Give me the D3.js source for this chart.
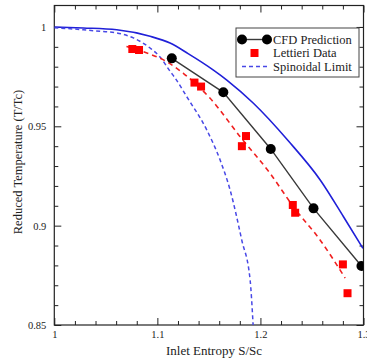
<!DOCTYPE html>
<html>
<head>
<meta charset="utf-8">
<script src="https://cdn.jsdelivr.net/npm/d3@7"></script>
<style>
  html, body { margin: 0; padding: 0; background: #fff; }
  svg { display: block; }
  text { font-family: "Liberation Serif", "Times New Roman", serif; fill: #222; }
</style>
</head>
<body>
<div id="chart"></div>
<script>
// Reduced temperature vs. inlet entropy

// CFD prediction (markers joined by a solid line)
const cfdEntropy = [1.114, 1.164, 1.210, 1.2515, 1.298];
const cfdTemp    = [0.9842, 0.9671, 0.9386, 0.9087, 0.8797];

// Lettieri experimental data
const lettieriEntropy = [1.0757, 1.0822, 1.136, 1.1424, 1.182, 1.186, 1.2314, 1.2337, 1.280, 1.2845];
const lettieriTemp    = [0.9889, 0.9884, 0.972, 0.970, 0.940, 0.9451, 0.9104, 0.9065, 0.8805, 0.866];

// Trend line through the Lettieri data
const trendEntropy = [1.070, 1.0861, 1.1091, 1.1252, 1.1512, 1.1803, 1.2094, 1.2320, 1.2580, 1.2822];
const trendTemp    = [0.9902, 0.9876, 0.9825, 0.9767, 0.9641, 0.9448, 0.9263, 0.9095, 0.8927, 0.8736];

// Saturation curve (solid blue)
const satEntropy = [1.000, 1.0282, 1.0606, 1.0929, 1.1123, 1.1298, 1.1544, 1.1674, 1.1932, 1.2272, 1.2580, 1.2806, 1.2994];
const satTemp    = [1.0000, 0.9995, 0.9986, 0.9953, 0.9919, 0.9866, 0.9783, 0.9733, 0.9616, 0.9426, 0.9230, 0.9045, 0.8886];

// Spinodal limit (dashed blue)
const spinEntropy = [1.000, 1.0282, 1.0444, 1.0606, 1.0767, 1.0929, 1.1026, 1.1123, 1.1172, 1.1285, 1.1480, 1.1609, 1.1706, 1.1819, 1.1900, 1.1929];
const spinTemp    = [0.9996, 0.9986, 0.9978, 0.9970, 0.9945, 0.9894, 0.9849, 0.9777, 0.9743, 0.9649, 0.9481, 0.9330, 0.9179, 0.8927, 0.8726, 0.8500];

// Axis ticks
const xMajorTicks = [1, 1.1, 1.2, 1.3];
const yMajorTicks = [0.85, 0.9, 0.95, 1];
const xMinorTicks = [1.02, 1.04, 1.06, 1.08, 1.12, 1.14, 1.16, 1.18, 1.22, 1.24, 1.26, 1.28];
const yMinorTicks = [0.86, 0.87, 0.88, 0.89, 0.91, 0.92, 0.93, 0.94, 0.96, 0.97, 0.98, 0.99, 1.0];

// Labels
const xTitle = "Inlet Entropy S/Sc";
const yTitle = "Reduced Temperature (T/Tc)";
const legendLabels = ["CFD Prediction", "Lettieri Data", "Spinoidal Limit"];

const W = 367, H = 358;
const mLeft = 54.3, mRight = 363.5, mTop = 5.5, mBottom = 325;

const x = d3.scaleLinear().domain([1, 1.3]).range([mLeft, mRight]);
const y = d3.scaleLinear().domain([0.85, 1.0108]).range([mBottom, mTop]);

const svg = d3.select("#chart").append("svg")
  .attr("width", W).attr("height", H);

svg.append("clipPath").attr("id", "plot-clip")
  .append("rect").attr("x", mLeft).attr("y", mTop)
  .attr("width", mRight - mLeft).attr("height", mBottom - mTop);

const zip = (a, b) => a.map((v, i) => [v, b[i]]);

// Axes with inward ticks on all four sides
function styleAxis(g) {
  g.select(".domain").remove();
  g.selectAll(".tick line").attr("stroke", "#222").attr("stroke-width", 1);
  g.selectAll(".tick text").attr("font-size", "10.5px")
    .attr("font-family", "Liberation Serif, serif").attr("fill", "#222");
}

const fmt = d3.format("");

svg.append("g").attr("transform", `translate(0,${mBottom})`)
  .call(d3.axisBottom(x).tickValues(xMajorTicks).tickSizeInner(-7).tickSizeOuter(0).tickPadding(6).tickFormat(fmt))
  .call(styleAxis);
svg.append("g").attr("transform", `translate(0,${mBottom})`)
  .call(d3.axisBottom(x).tickValues(xMinorTicks).tickSizeInner(-4).tickSizeOuter(0).tickFormat(""))
  .call(styleAxis);
svg.append("g").attr("transform", `translate(0,${mTop})`)
  .call(d3.axisTop(x).tickValues(xMajorTicks).tickSizeInner(-7).tickSizeOuter(0).tickFormat(""))
  .call(styleAxis);
svg.append("g").attr("transform", `translate(0,${mTop})`)
  .call(d3.axisTop(x).tickValues(xMinorTicks).tickSizeInner(-4).tickSizeOuter(0).tickFormat(""))
  .call(styleAxis);

svg.append("g").attr("transform", `translate(${mLeft},0)`)
  .call(d3.axisLeft(y).tickValues(yMajorTicks).tickSizeInner(-7).tickSizeOuter(0).tickPadding(8).tickFormat(fmt))
  .call(styleAxis);
svg.append("g").attr("transform", `translate(${mLeft},0)`)
  .call(d3.axisLeft(y).tickValues(yMinorTicks).tickSizeInner(-4).tickSizeOuter(0).tickFormat(""))
  .call(styleAxis);
svg.append("g").attr("transform", `translate(${mRight},0)`)
  .call(d3.axisRight(y).tickValues(yMajorTicks).tickSizeInner(-7).tickSizeOuter(0).tickFormat(""))
  .call(styleAxis);
svg.append("g").attr("transform", `translate(${mRight},0)`)
  .call(d3.axisRight(y).tickValues(yMinorTicks).tickSizeInner(-4).tickSizeOuter(0).tickFormat(""))
  .call(styleAxis);

// Frame
svg.append("rect").attr("x", mLeft).attr("y", mTop)
  .attr("width", mRight - mLeft).attr("height", mBottom - mTop)
  .attr("fill", "none").attr("stroke", "#222").attr("stroke-width", 1.2);

// Axis titles
svg.append("text").attr("x", 214).attr("y", 355)
  .attr("text-anchor", "middle").attr("font-size", "13px").text(xTitle);
svg.append("text").attr("transform", "translate(22,162) rotate(-90)")
  .attr("text-anchor", "middle").attr("font-size", "12.5px").text(yTitle);

const plot = svg.append("g").attr("clip-path", "url(#plot-clip)");

const smooth = d3.line().x(d => x(d[0])).y(d => y(d[1])).curve(d3.curveMonotoneX);
const straight = d3.line().x(d => x(d[0])).y(d => y(d[1]));

// Saturation curve
plot.append("path").datum(zip(satEntropy, satTemp))
  .attr("d", smooth).attr("fill", "none")
  .attr("stroke", "#2020d8").attr("stroke-width", 1.6);

// Spinodal limit
plot.append("path").datum(zip(spinEntropy, spinTemp))
  .attr("d", smooth).attr("fill", "none")
  .attr("stroke", "#4848e6").attr("stroke-width", 1.5)
  .attr("stroke-dasharray", "4,3");

// Trend line through the experimental data
plot.append("path").datum(zip(trendEntropy, trendTemp))
  .attr("d", smooth).attr("fill", "none")
  .attr("stroke", "#f02020").attr("stroke-width", 1.6)
  .attr("stroke-dasharray", "5,4");

// CFD prediction
plot.append("path").datum(zip(cfdEntropy, cfdTemp))
  .attr("d", straight).attr("fill", "none")
  .attr("stroke", "#3a3a3a").attr("stroke-width", 1.4);
plot.selectAll("circle.cfd").data(zip(cfdEntropy, cfdTemp)).join("circle")
  .attr("class", "cfd")
  .attr("cx", d => x(d[0])).attr("cy", d => y(d[1])).attr("r", 5)
  .attr("fill", "#000");

// Lettieri data
const sq = 8;
plot.selectAll("rect.lettieri").data(zip(lettieriEntropy, lettieriTemp)).join("rect")
  .attr("class", "lettieri")
  .attr("x", d => x(d[0]) - sq / 2).attr("y", d => y(d[1]) - sq / 2)
  .attr("width", sq).attr("height", sq).attr("fill", "#ff0000");

// Legend
const lg = svg.append("g");
lg.append("rect").attr("x", 236).attr("y", 28).attr("width", 123).attr("height", 49)
  .attr("fill", "#fff").attr("stroke", "#444").attr("stroke-width", 1);
const rows = [39.5, 53, 66.5];
const sx0 = 242, sx1 = 267, tx = 273;
lg.append("line").attr("x1", sx0).attr("x2", sx1).attr("y1", rows[0]).attr("y2", rows[0])
  .attr("stroke", "#3a3a3a").attr("stroke-width", 1.4);
lg.selectAll("circle").data([sx0, sx1]).join("circle")
  .attr("cx", d => d).attr("cy", rows[0]).attr("r", 5).attr("fill", "#000");
lg.append("rect").attr("x", (sx0 + sx1) / 2 - sq / 2).attr("y", rows[1] - sq / 2)
  .attr("width", sq).attr("height", sq).attr("fill", "#ff0000");
lg.append("line").attr("x1", sx0).attr("x2", sx1).attr("y1", rows[2]).attr("y2", rows[2])
  .attr("stroke", "#4848e6").attr("stroke-width", 1.5).attr("stroke-dasharray", "4,3");
lg.selectAll("text").data(legendLabels).join("text")
  .attr("x", tx).attr("y", (d, i) => rows[i]).attr("dy", "0.35em")
  .attr("font-size", "12.5px").text(d => d);
</script>
</body>
</html>
